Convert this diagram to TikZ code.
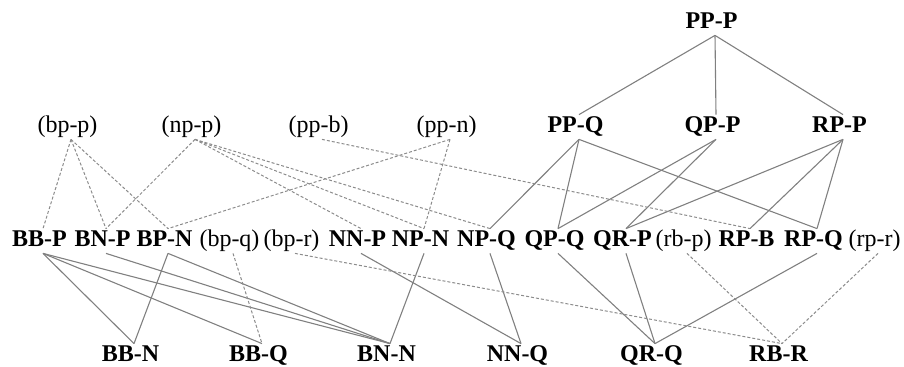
\documentclass[tikz,border=0pt]{standalone}
\usepackage{fontspec}
\setmainfont{Liberation Serif}

\begin{document}
\begin{tikzpicture}[x=0.5pt,y=-0.5pt,
    every node/.style={anchor=base,inner sep=1.5pt,text height=0.75em,text depth=0.15em,
      font=\fontsize{12}{14}\selectfont,execute at end node={\hspace{3.5pt}}},
    upr/.style={font=\fontsize{12}{14}\selectfont\bfseries},
    sol/.style={draw=gray,line width=0.55pt},
    dsh/.style={draw=gray!90,line width=0.5pt,dash pattern=on 1.5pt off 1pt}]
  \useasboundingbox (0,0) rectangle (904,367);
  % top
  \node[upr] (ppP) at (715,29) {PP-P};
  % second row
  \node      (bpp) at (71,133)  {(bp-p)};
  \node      (npp) at (195,133) {(np-p)};
  \node      (ppb) at (322,133) {(pp-b)};
  \node      (ppn) at (450,133) {(pp-n)};
  \node[upr] (ppQ) at (579,133) {PP-Q};
  \node[upr] (qpP) at (716,133) {QP-P};
  \node[upr] (rpP) at (843,133) {RP-P};
  % third row
  \node[upr] (bbP) at (43,247)  {BB-P};
  \node[upr] (bnP) at (106,247) {BN-P};
  \node[upr] (bpN) at (168,247) {BP-N};
  \node      (bpq) at (233,247) {(bp-q)};
  \node      (bpr) at (295,247) {(bp-r)};
  \node[upr] (nnP) at (361,247) {NN-P};
  \node[upr] (npN) at (424,247) {NP-N};
  \node[upr] (npQ) at (490,247) {NP-Q};
  \node[upr] (qpQ) at (558,247) {QP-Q};
  \node[upr] (qrP) at (626,247) {QR-P};
  \node      (rbp) at (687,247) {(rb-p)};
  \node[upr] (rpB) at (750,247) {RP-B};
  \node[upr] (rpQ) at (817,247) {RP-Q};
  \node      (rpr) at (878,247) {(rp-r)};
  % bottom row
  \node[upr] (bbN) at (134,362) {BB-N};
  \node[upr] (bbQ) at (262,362) {BB-Q};
  \node[upr] (bnN) at (390,362) {BN-N};
  \node[upr] (nnQ) at (521,362) {NN-Q};
  \node[upr] (qrQ) at (655,362) {QR-Q};
  \node[upr] (rbR) at (782,362) {RB-R};
  % solid links
  \draw[sol] (ppP.south) edge (ppQ.north) edge (qpP.north) edge (rpP.north);
  \draw[sol] (ppQ.south) edge (npQ.north) edge (qpQ.north) edge (rpQ.north);
  \draw[sol] (qpP.south) edge (qpQ.north) edge (qrP.north);
  \draw[sol] (rpP.south) edge (qrP.north) edge (rpB.north) edge (rpQ.north);
  \draw[sol] (bbP.south) edge (bbN.north) edge (bbQ.north) edge (bnN.north);
  \draw[sol] (bnP.south) edge (bnN.north);
  \draw[sol] (bpN.south) edge (bbN.north) edge (bnN.north);
  \draw[sol] (nnP.south) edge (nnQ.north);
  \draw[sol] (npN.south) edge (bnN.north);
  \draw[sol] (npQ.south) edge (nnQ.north);
  \draw[sol] (qpQ.south) edge (qrQ.north);
  \draw[sol] (qrP.south) edge (qrQ.north);
  \draw[sol] (rpQ.south) edge (qrQ.north);
  % dashed links
  \draw[dsh] (bpp.south) edge (bbP.north) edge (bnP.north) edge (bpN.north);
  \draw[dsh] (npp.south) edge (bnP.north) edge (nnP.north) edge (npN.north) edge (npQ.north);
  \draw[dsh] (ppb.south) edge (rpB.north);
  \draw[dsh] (ppn.south) edge (bpN.north) edge (npN.north);
  \draw[dsh] (bpq.south) edge (bbQ.north);
  \draw[dsh] (bpr.south) edge (rbR.north);
  \draw[dsh] (rbp.south) edge (rbR.north);
  \draw[dsh] (rpr.south) edge (rbR.north);
\end{tikzpicture}
\end{document}
